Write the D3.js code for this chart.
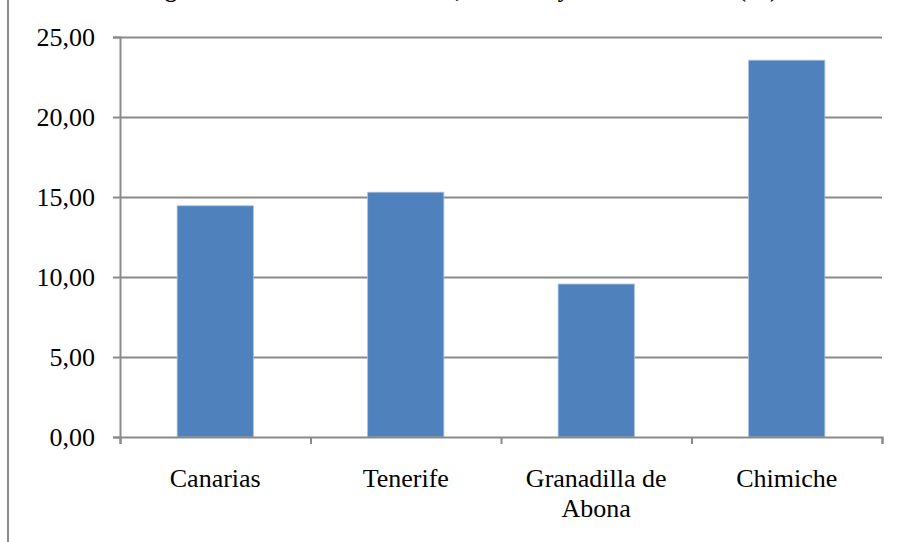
<!DOCTYPE html>
<html>
<head>
<meta charset="utf-8">
<script src="https://cdn.jsdelivr.net/npm/d3@7"></script>
<style>
  body { margin: 0; background: #fff; }
  svg { display: block; font-family: 'Liberation Serif', 'Times New Roman', serif; }
</style>
</head>
<body>
<svg id="chart"></svg>
<script>
const categories = ['Canarias', 'Tenerife', 'Granadilla de Abona', 'Chimiche'];
const values = [14.45, 15.3, 9.56, 23.55];
const yTicks = [0, 5, 10, 15, 20, 25];
const title = 'Migración interior de Canarias, Tenerife y los dos ámbitos (%)';

const width = 899;
const height = 542;
const margin = { top: 37, right: 17, bottom: 105, left: 120 };
const innerW = width - margin.left - margin.right;
const innerH = height - margin.top - margin.bottom;

const svg = d3.select('#chart')
  .attr('width', width)
  .attr('height', height);

// page frame line on the left
svg.append('line')
  .attr('x1', 8).attr('x2', 8)
  .attr('y1', 0).attr('y2', height)
  .attr('stroke', '#8c8c8c')
  .attr('stroke-width', 2);

// title, cut off at the top like in the original
const titleText = svg.append('text')
  .attr('x', 140)
  .attr('y', -3)
  .attr('font-weight', 'bold')
  .attr('font-size', 24)
  .text(title);
const gPos = titleText.node().getStartPositionOfChar(title.indexOf('g')).x;
titleText.attr('x', 140 + (165 - gPos));

const g = svg.append('g')
  .attr('transform', `translate(${margin.left},${margin.top})`);

const x = d3.scaleBand()
  .domain(categories)
  .range([0, innerW])
  .paddingInner(0.6)
  .paddingOuter(0.3);

const y = d3.scaleLinear()
  .domain([0, 25])
  .range([innerH, 0]);

// gridlines
g.selectAll('.grid')
  .data(yTicks.filter(d => d > 0))
  .enter()
  .append('line')
  .attr('class', 'grid')
  .attr('x1', 0)
  .attr('x2', innerW)
  .attr('y1', d => Math.round(y(d)) + 0.5)
  .attr('y2', d => Math.round(y(d)) + 0.5)
  .attr('stroke', '#8a8a8a')
  .attr('stroke-width', 2);

// bars
g.selectAll('.bar')
  .data(values)
  .enter()
  .append('rect')
  .attr('class', 'bar')
  .attr('x', (d, i) => x(categories[i]))
  .attr('width', x.bandwidth())
  .attr('y', d => y(d))
  .attr('height', d => innerH - y(d))
  .attr('fill', '#4f81bd')
  .attr('stroke', '#a7bfde')
  .attr('stroke-width', 0.8);

// y axis
const yAxis = g.append('g')
  .call(d3.axisLeft(y)
    .tickValues(yTicks)
    .tickSize(7)
    .tickPadding(18)
    .tickFormat(d => d3.format('.2f')(d).replace('.', ',')));

// x axis, ticks between the categories
const boundaries = d3.range(categories.length + 1).map(i => i * innerW / categories.length);
const xAxis = g.append('g')
  .attr('transform', `translate(0,${innerH})`)
  .call(d3.axisBottom(d3.scaleLinear().domain([0, innerW]).range([0, innerW]))
    .tickValues(boundaries)
    .tickSize(7)
    .tickFormat(''));

[yAxis, xAxis].forEach(a => {
  a.select('.domain').attr('stroke', '#8a8a8a').attr('stroke-width', 2);
  a.selectAll('.tick line').attr('stroke', '#8a8a8a').attr('stroke-width', 2);
});
yAxis.selectAll('.tick text')
  .attr('font-size', 26)
  .attr('fill', '#000')
  .attr('font-family', 'Liberation Serif, Times New Roman, serif');

// category labels, wrapped like the original
const labelLines = [['Canarias'], ['Tenerife'], ['Granadilla de', 'Abona'], ['Chimiche']];
const labels = g.append('g')
  .attr('transform', `translate(0,${innerH})`)
  .selectAll('text')
  .data(categories)
  .enter()
  .append('text')
  .attr('x', d => x(d) + x.bandwidth() / 2)
  .attr('y', 50)
  .attr('text-anchor', 'middle')
  .attr('font-size', 26)
  .attr('fill', '#000');

labels.selectAll('tspan')
  .data((d, i) => labelLines[i])
  .enter()
  .append('tspan')
  .attr('x', function () { return this.parentNode.getAttribute('x'); })
  .attr('dy', (d, i) => (i === 0 ? 0 : 30))
  .text(d => d);
</script>
</body>
</html>
